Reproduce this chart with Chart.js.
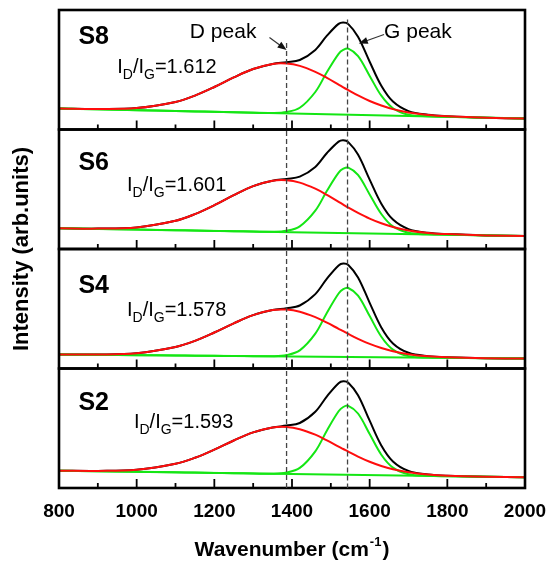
<!DOCTYPE html>
<html>
<head>
<meta charset="utf-8">
<script src="https://cdn.jsdelivr.net/npm/chart.js@4.4.0/dist/chart.umd.min.js"></script>
<style>
  html, body { margin: 0; padding: 0; background: #fff; }
  #wrap { width: 555px; height: 564px; }
</style>
</head>
<body>
<div id="wrap"><canvas id="ramanChart" width="555" height="564"></canvas></div>
<script>
// wavenumber samples (cm-1) shared by all fitted curves
const wavenumbers = [800, 900, 1000, 1100, 1150, 1200, 1250, 1300, 1350, 1386, 1420, 1460, 1490, 1520, 1532, 1545, 1570, 1600, 1630, 1660, 1700, 1750, 1800, 1900, 2000];
const baseX = [800, 2000];

// S8
const s8Red   = [21, 20.5, 21.4, 27.5, 33.9, 42.5, 52.1, 60.5, 65.6, 66, 63.6, 57.6, 51.6, 44.9, 42.2, 39.4, 34.1, 28.5, 24, 20.4, 17.1, 14.6, 13.3, 11.8, 11];
const s8Green = [21, 20.2, 19.3, 18.5, 18.1, 17.7, 17.3, 16.8, 16.4, 17.4, 21.7, 37.5, 57.5, 75.7, 79.6, 80.8, 73.3, 53.6, 33.8, 21.3, 14.8, 13.2, 12.7, 11.8, 11];
const s8Sum   = [21, 20.5, 21.4, 27.5, 33.9, 42.5, 52.1, 60.5, 65.6, 67.3, 69.5, 79.6, 93.8, 105.6, 106.9, 105.4, 92.8, 67.8, 43.7, 27.9, 18.4, 14.7, 13.3, 11.8, 11];
const s8Base  = [21, 11];
// S6
const s6Red   = [20.7, 20.4, 21.6, 28.2, 34.9, 43.8, 53.9, 62.9, 68.3, 68.8, 66.4, 60.3, 54.1, 47.2, 44.4, 41.4, 36.1, 30.4, 25.7, 22, 18.6, 16.1, 14.9, 13.6, 13];
const s6Green = [20.7, 20.1, 19.4, 18.8, 18.5, 18.1, 17.8, 17.5, 17.2, 18.2, 22.6, 38.3, 58.2, 76.3, 80.3, 81.4, 74.1, 54.6, 35, 22.6, 16.2, 14.7, 14.3, 13.6, 13];
const s6Sum   = [20.7, 20.4, 21.6, 28.2, 34.9, 43.8, 53.9, 62.9, 68.3, 70.1, 72.3, 82.1, 96, 107.4, 108.7, 106.9, 94.4, 69.4, 45.3, 29.4, 19.9, 16.2, 14.9, 13.6, 13];
const s6Base  = [20.7, 13];
// S4
const s4Red   = [14, 14, 15.3, 21.5, 27.6, 36, 45.2, 53.4, 58.4, 58.9, 56.8, 51.4, 45.8, 39.7, 37.3, 34.6, 29.7, 24.6, 20.5, 17.3, 14.3, 12.2, 11.2, 10.3, 10];
const s4Green = [14, 13.7, 13.3, 13, 12.8, 12.7, 12.5, 12.3, 12.2, 13.4, 18.1, 34.8, 55.8, 75, 79.3, 80.5, 72.8, 52.4, 31.8, 18.9, 12.4, 10.9, 10.7, 10.3, 10];
const s4Sum   = [14, 14, 15.3, 21.5, 27.6, 36, 45.2, 53.4, 58.4, 60.3, 63, 74.4, 89.9, 103.1, 105, 103.6, 91.1, 65.7, 41.1, 25.1, 15.7, 12.3, 11.2, 10.3, 10];
const s4Base  = [14, 10];
// S2
const s2Red   = [17.3, 17.1, 18.2, 24.2, 30.2, 38.4, 47.5, 55.6, 60.5, 61, 58.8, 53.3, 47.6, 41.4, 39, 36.3, 31.4, 26.2, 22, 18.8, 15.7, 13.5, 12.3, 11.2, 10.7];
const s2Green = [17.3, 16.8, 16.2, 15.7, 15.4, 15.1, 14.8, 14.5, 14.3, 15.5, 20.1, 36.7, 57.6, 76.7, 81, 82.2, 74.5, 54, 33.3, 20.4, 13.8, 12.2, 11.8, 11.2, 10.7];
const s2Sum   = [17.3, 17.1, 18.2, 24.2, 30.2, 38.4, 47.5, 55.6, 60.5, 62.4, 65, 76.3, 91.7, 104.8, 106.7, 105.3, 92.8, 67.3, 42.6, 26.6, 17.1, 13.6, 12.3, 11.2, 10.7];
const s2Base  = [17.3, 10.7];

const sampleNames = ["S8", "S6", "S4", "S2"];
const ratioLabels = ["1.612", "1.601", "1.578", "1.593"];
const majorTicks = [800, 1000, 1200, 1400, 1600, 1800, 2000];
const minorTicks = [900, 1100, 1300, 1500, 1700, 1900];
const dPeak = 1386;
const gPeak = 1543;

const FONT = '"Liberation Sans", Arial, sans-serif';
const RED = "#ff0d0d";
const GREEN = "#14e614";
const MAJOR_LEN = 9;
const MINOR_LEN = 5;

const panels = [
  { id: "p8", red: s8Red, green: s8Green, sum: s8Sum, base: s8Base, nameY: 85.5, ratioX: 950, ratioY: 56.5 },
  { id: "p6", red: s6Red, green: s6Green, sum: s6Sum, base: s6Base, nameY: 79, ratioX: 975, ratioY: 58 },
  { id: "p4", red: s4Red, green: s4Green, sum: s4Sum, base: s4Base, nameY: 75.5, ratioX: 975, ratioY: 52.5 },
  { id: "p2", red: s2Red, green: s2Green, sum: s2Sum, base: s2Base, nameY: 78, ratioX: 993, ratioY: 60 }
];

function pts(xs, ys) {
  return xs.map((x, i) => ({ x: x, y: ys[i] }));
}

function curve(data, color, axis) {
  return {
    data: data,
    borderColor: color,
    borderWidth: 2,
    pointRadius: 0,
    tension: 0.35,
    fill: false,
    yAxisID: axis
  };
}

// inward tick marks: vertical line markers standing on the panel foot
function tickMarks(values, len, axis) {
  return {
    data: values.map(v => ({ x: v, y: len / 2 })),
    showLine: false,
    pointStyle: "line",
    pointRotation: 90,
    pointRadius: len / 2,
    pointBorderWidth: 1.8,
    pointBorderColor: "#000",
    pointBackgroundColor: "#000",
    borderColor: "#000",
    yAxisID: axis
  };
}

const datasets = [];
panels.forEach(p => {
  datasets.push(curve(pts(wavenumbers, p.red), RED, p.id));
  datasets.push(curve(pts(wavenumbers, p.green), GREEN, p.id));
  datasets.push(curve(pts(baseX, p.base), GREEN, p.id));
  datasets.push(curve(pts(wavenumbers, p.sum), "#000", p.id));
});
panels.forEach(p => {
  datasets.push(tickMarks(majorTicks, MAJOR_LEN, p.id));
  datasets.push(tickMarks(minorTicks, MINOR_LEN, p.id));
});

const scales = {
  x: {
    type: "linear",
    position: "bottom",
    min: 800,
    max: 2000,
    afterBuildTicks: s => { s.ticks = majorTicks.map(v => ({ value: v })); },
    afterFit: s => {
      s.height = 76;
      s.paddingLeft = 0;
      s.paddingRight = 0;
    },
    ticks: {
      font: { family: FONT, size: 19, weight: "bold" },
      color: "#000",
      padding: 12,
      maxRotation: 0,
      autoSkip: false,
      callback: v => String(v)
    },
    grid: { display: false, drawTicks: false },
    border: { display: false }
  }
};
panels.forEach((p, i) => {
  scales[p.id] = {
    type: "linear",
    position: "left",
    stack: "panels",
    stackWeight: 1,
    weight: panels.length - i,
    min: 0,
    max: 119.5,
    display: false
  };
});

// panel frames
const frames = {
  id: "frames",
  afterDraw(chart) {
    const ctx = chart.ctx;
    const xs = chart.scales.x;
    ctx.save();
    ctx.strokeStyle = "#000";
    ctx.lineWidth = 2.6;
    panels.forEach(p => {
      const s = chart.scales[p.id];
      ctx.strokeRect(xs.left, s.top, xs.right - xs.left, s.bottom - s.top);
    });
    ctx.restore();
  }
};

function arrow(ctx, x0, y0, x1, y1) {
  const a = Math.atan2(y1 - y0, x1 - x0);
  ctx.beginPath();
  ctx.moveTo(x0, y0);
  ctx.lineTo(x1 - 6 * Math.cos(a), y1 - 6 * Math.sin(a));
  ctx.stroke();
  ctx.beginPath();
  ctx.moveTo(x1, y1);
  ctx.lineTo(x1 - 9 * Math.cos(a) + 3.5 * Math.sin(a), y1 - 9 * Math.sin(a) - 3.5 * Math.cos(a));
  ctx.lineTo(x1 - 9 * Math.cos(a) - 3.5 * Math.sin(a), y1 - 9 * Math.sin(a) + 3.5 * Math.cos(a));
  ctx.closePath();
  ctx.fill();
}

const decor = {
  id: "decor",
  afterDraw(chart) {
    const ctx = chart.ctx;
    const xs = chart.scales.x;
    const ys = panels.map(p => chart.scales[p.id]);

    // peak position guides
    ctx.save();
    ctx.strokeStyle = "#444";
    ctx.lineWidth = 1.3;
    ctx.setLineDash([5, 3]);
    [[dPeak, 86.5], [gPeak, 110]].forEach(pair => {
      const px = xs.getPixelForValue(pair[0]);
      ctx.beginPath();
      ctx.moveTo(px, ys[0].getPixelForValue(pair[1]));
      ctx.lineTo(px, ys[3].bottom);
      ctx.stroke();
    });
    ctx.restore();

    // texts
    ctx.save();
    ctx.fillStyle = "#000";
    ctx.textBaseline = "alphabetic";
    ctx.textAlign = "left";
    panels.forEach((p, i) => {
      const s = ys[i];
      ctx.font = "bold 25px " + FONT;
      ctx.fillText(sampleNames[i], xs.getPixelForValue(850), s.getPixelForValue(p.nameY));

      let px = xs.getPixelForValue(p.ratioX);
      const py = s.getPixelForValue(p.ratioY);
      const parts = [["I", 0], ["D", 1], ["/I", 0], ["G", 1], ["=" + ratioLabels[i], 0]];
      parts.forEach(part => {
        ctx.font = (part[1] ? "14px " : "20px ") + FONT;
        ctx.fillText(part[0], px, py + (part[1] ? 6 : 0));
        px += ctx.measureText(part[0]).width;
      });
    });

    // peak captions with arrows (panel S8)
    const first = ys[0];
    ctx.font = "21px " + FONT;
    ctx.fillText("D peak", xs.getPixelForValue(1137), first.getPixelForValue(92));
    ctx.fillText("G peak", xs.getPixelForValue(1637), first.getPixelForValue(92));
    ctx.strokeStyle = "#333";
    ctx.fillStyle = "#111";
    ctx.lineWidth = 1.2;
    arrow(ctx, xs.getPixelForValue(1342), first.getPixelForValue(92), xs.getPixelForValue(1386), first.getPixelForValue(79.5));
    arrow(ctx, xs.getPixelForValue(1637), first.getPixelForValue(95), xs.getPixelForValue(1572), first.getPixelForValue(86));

    // axis titles
    ctx.fillStyle = "#000";
    ctx.font = "bold 21px " + FONT;
    const xt = "Wavenumber (cm";
    const sup = "-1";
    const close = ")";
    const w1 = ctx.measureText(xt).width;
    const w3 = ctx.measureText(close).width;
    ctx.font = "bold 13px " + FONT;
    const w2 = ctx.measureText(sup).width;
    const tx = (xs.left + xs.right) / 2 - (w1 + w2 + w3 + 2) / 2;
    const ty = 556;
    ctx.font = "bold 21px " + FONT;
    ctx.fillText(xt, tx, ty);
    ctx.font = "bold 13px " + FONT;
    ctx.fillText(sup, tx + w1 + 1, ty - 10);
    ctx.font = "bold 21px " + FONT;
    ctx.fillText(close, tx + w1 + w2 + 2, ty);

    ctx.font = "bold 22px " + FONT;
    ctx.translate(22, (ys[0].top + ys[3].bottom) / 2);
    ctx.rotate(-Math.PI / 2);
    ctx.textAlign = "center";
    ctx.textBaseline = "middle";
    ctx.fillText("Intensity (arb.units)", 0, 0);
    ctx.restore();
  }
};

new Chart(document.getElementById("ramanChart"), {
  type: "line",
  data: { datasets: datasets },
  options: {
    responsive: false,
    animation: false,
    devicePixelRatio: 1,
    layout: { padding: { left: 59, right: 30, top: 10, bottom: 0 } },
    plugins: { legend: { display: false }, tooltip: { enabled: false } },
    scales: scales
  },
  plugins: [frames, decor]
});
</script>
</body>
</html>
